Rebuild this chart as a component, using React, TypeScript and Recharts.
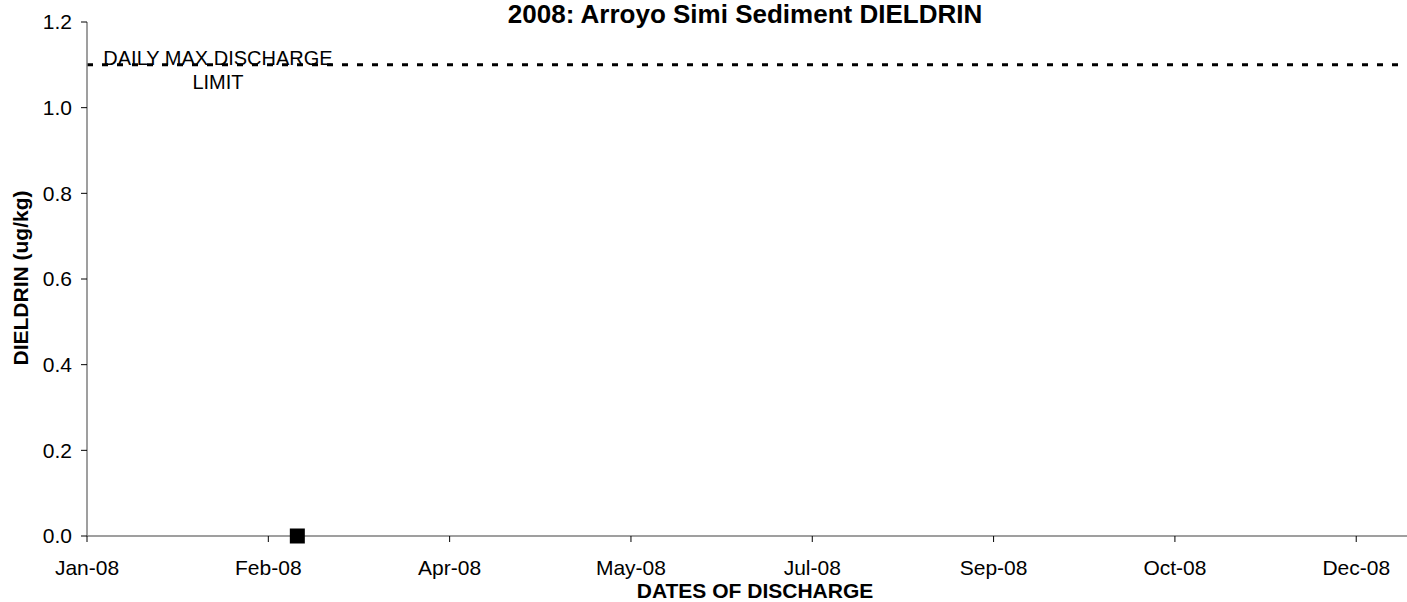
import React from "react";
import { ScatterChart, Scatter, XAxis, YAxis, ReferenceLine } from "recharts";

const TICK_DAYS = [0, 50, 100, 150, 200, 250, 300, 350];
const TICK_LABELS = ["Jan-08", "Feb-08", "Apr-08", "May-08", "Jul-08", "Sep-08", "Oct-08", "Dec-08"];
const SAMPLE_DAYS = [58];
const SAMPLE_VALUES = [0];
const Y_TICKS = [0, 0.2, 0.4, 0.6, 0.8, 1.0, 1.2];
const LIMIT_VALUE = 1.1;
const LIMIT_LINES = ["DAILY MAX DISCHARGE", "LIMIT"];
const TITLE = "2008: Arroyo Simi Sediment DIELDRIN";
const X_TITLE = "DATES OF DISCHARGE";
const Y_TITLE = "DIELDRIN (ug/kg)";

const FONT = '"Liberation Sans", Arial, sans-serif';
const AXIS_COLOR = "#7f7f7f";

const data = SAMPLE_DAYS.map((d, i) => ({ day: d, value: SAMPLE_VALUES[i] }));

const Square = (props: any) => {
  const { cx, cy } = props;
  if (cx == null || cy == null) return null;
  return <rect x={cx - 7.5} y={cy - 7.5} width={15} height={15} fill="#000" />;
};

const LimitLabel = (props: any) => {
  const vb = props.viewBox || {};
  const cx = vb.x + 131;
  const y = vb.y;
  return (
    <g>
      <text x={cx} y={y} textAnchor="middle" fontFamily={FONT} fontSize={20} fill="#000">
        {LIMIT_LINES[0]}
      </text>
      <text x={cx} y={y + 24} textAnchor="middle" fontFamily={FONT} fontSize={20} fill="#000">
        {LIMIT_LINES[1]}
      </text>
    </g>
  );
};

const XTitle = (props: any) => {
  const vb = props.viewBox || {};
  return (
    <text x={vb.x + vb.width / 2 + 8} y={vb.y + 62} textAnchor="middle" fontFamily={FONT} fontSize={21} fontWeight="bold" fill="#000">
      {X_TITLE}
    </text>
  );
};

const YTitle = () => {
  const x = 28;
  const y = 278;
  return (
    <text x={x} y={y} transform={`rotate(-90 ${x} ${y})`} textAnchor="middle" fontFamily={FONT} fontSize={21} fontWeight="bold" fill="#000">
      {Y_TITLE}
    </text>
  );
};

export default function App() {
  return (
    <div style={{ position: "absolute", left: 0, top: 0, width: 1407, height: 602, background: "#fff", overflow: "hidden" }}>
      <div
        style={{
          position: "absolute",
          left: 745 - 400,
          top: 0,
          width: 800,
          textAlign: "center",
          fontFamily: FONT,
          fontWeight: "bold",
          fontSize: 26,
          lineHeight: "28px",
          color: "#000",
        }}
      >
        {TITLE}
      </div>
      <ScatterChart width={1407} height={602} margin={{ top: 22, right: 0, bottom: 0, left: 0 }}>
        <XAxis
          type="number"
          dataKey="day"
          domain={[0, 364]}
          ticks={TICK_DAYS}
          tickFormatter={(v: number) => TICK_LABELS[TICK_DAYS.indexOf(v)] ?? ""}
          height={66}
          tickSize={6}
          tickMargin={18}
          tick={{ fill: "#000", fontSize: 21, fontFamily: FONT }}
          axisLine={{ stroke: AXIS_COLOR, strokeWidth: 1.5 }}
          tickLine={{ stroke: "#000" }}
          allowDataOverflow
          label={<XTitle />}
        />
        <YAxis
          type="number"
          dataKey="value"
          domain={[0, 1.2]}
          ticks={Y_TICKS}
          tickFormatter={(v: number) => v.toFixed(1)}
          width={87}
          tickSize={6}
          tickMargin={9}
          tick={{ fill: "#000", fontSize: 21, fontFamily: FONT }}
          axisLine={{ stroke: AXIS_COLOR, strokeWidth: 1.5 }}
          tickLine={{ stroke: "#000" }}
          label={<YTitle />}
        />
        <ReferenceLine
          y={LIMIT_VALUE}
          stroke="#000"
          strokeWidth={3}
          strokeDasharray="6 9"
          label={<LimitLabel />}
        />
        <Scatter data={data} shape={<Square />} isAnimationActive={false} />
      </ScatterChart>
    </div>
  );
}
